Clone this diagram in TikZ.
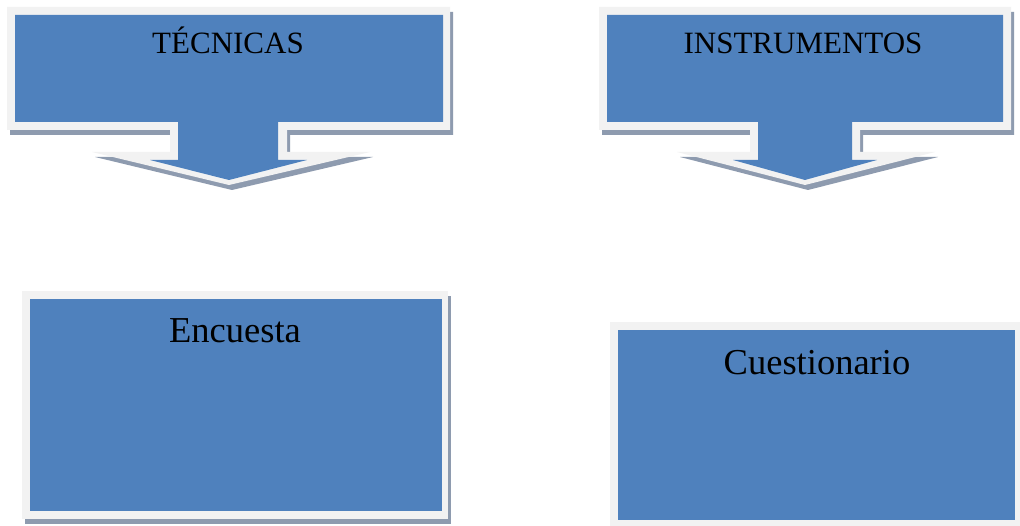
\documentclass[tikz,border=0pt]{standalone}
\usepackage{fontspec}
\setmainfont{Liberation Serif}
\definecolor{boxblue}{HTML}{4F81BD}
\definecolor{rimgrey}{HTML}{F2F2F2}
\definecolor{shadowgrey}{HTML}{8E9BAF}
\tikzset{
  rim/.style={fill=rimgrey},
  core/.style={fill=boxblue},
  shade/.style={fill=shadowgrey},
  headtext/.style={anchor=base, inner sep=0pt, font=\fontsize{31}{31}\selectfont},
  boxtext/.style={anchor=base, inner sep=0pt, font=\fontsize{36.5}{36.5}\selectfont}
}
\begin{document}
\begin{tikzpicture}[x=1pt,y=-1pt]
\useasboundingbox (0,0) rectangle (1020,526);
\fill[white] (0,0) rectangle (1020,526);
% ---------- left callout (TECNICAS) ----------
\begin{scope}[shift={(3,5)}]
\path[shade] (7,7) -- (450,7) -- (450,130) -- (287,130) -- (287,152) -- (370,152) -- (229,185) -- (92,152) -- (170,152) -- (170,130) -- (7,130) -- cycle;
\end{scope}
\path[rim] (7,7) -- (450,7) -- (450,130) -- (287,130) -- (287,152) -- (370,152) -- (229,185) -- (92,152) -- (170,152) -- (170,130) -- (7,130) -- cycle;
\path[core] (15,15) -- (443,15) -- (443,122) -- (278,122) -- (278,160) -- (307,160) -- (229,180) -- (150,160) -- (178,160) -- (178,122) -- (15,122) -- cycle;
\node[headtext] (tec) at (228,54) {TÉCNICAS};
% ---------- right callout (INSTRUMENTOS) ----------
\begin{scope}[shift={(3,5)}]
\path[shade] (599,7) -- (1011,7) -- (1011,130) -- (860,130) -- (860,152) -- (935,152) -- (805,185) -- (677,152) -- (750,152) -- (750,130) -- (599,130) -- cycle;
\end{scope}
\path[rim] (599,7) -- (1011,7) -- (1011,130) -- (860,130) -- (860,152) -- (935,152) -- (805,185) -- (677,152) -- (750,152) -- (750,130) -- (599,130) -- cycle;
\path[core] (607,15) -- (1003,15) -- (1003,122) -- (852,122) -- (852,160) -- (877,160) -- (805,180) -- (733,160) -- (758,160) -- (758,122) -- (607,122) -- cycle;
\node[headtext] (ins) at (803,54) {INSTRUMENTOS};
% ---------- Encuesta box ----------
\path[shade] (25,296) rectangle (451,524);
\path[rim] (22,291) rectangle (448,519);
\path[core] (30,299) rectangle (442,511);
\node[boxtext] (enc) at (235,343) {Encuesta};
% ---------- Cuestionario box ----------
\path[shade] (613,327) rectangle (1023,531);
\path[rim] (610,322) rectangle (1020,526);
\path[core] (618,330) rectangle (1015,520);
\node[boxtext] (cue) at (817,375) {Cuestionario};
\end{tikzpicture}
\end{document}
